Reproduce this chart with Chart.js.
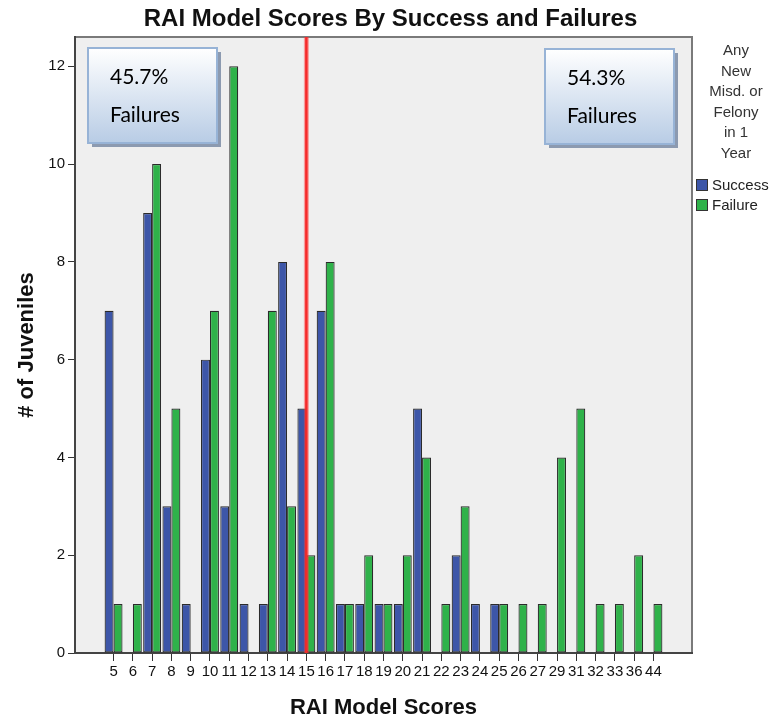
<!DOCTYPE html>
<html>
<head>
<meta charset="utf-8">
<script src="https://cdn.jsdelivr.net/npm/chart.js@4.4.1/dist/chart.umd.min.js"></script>
<style>
  html, body { margin: 0; padding: 0; background: #fff; }
  canvas { display: block; }
</style>
</head>
<body>
<canvas id="chart" width="779" height="721"></canvas>
<script>
// data
const scores = ['5','6','7','8','9','10','11','12','13','14','15','16','17','18','19','20','21','22','23','24','25','26','27','29','31','32','33','36','44']
const successCounts = [7,0,9,3,1,6,3,1,1,8,5,7,1,1,1,1,5,0,2,1,1,0,0,0,0,0,0,0,0]
const failureCounts = [1,1,10,5,0,7,12,0,7,3,2,8,1,2,1,2,4,1,3,0,1,1,1,4,5,1,1,2,1]
const yTicks = [0, 2, 4, 6, 8, 10, 12]
const cutoffScore = '15'
const chartTitle = 'RAI Model Scores By Success and Failures'
const leftNote = ['45.7%', 'Failures']
const rightNote = ['54.3%', 'Failures']
const legendTitle = ['Any', 'New', 'Misd. or', 'Felony', 'in 1', 'Year']

const FONT = '"Liberation Sans", Arial, sans-serif'
const BLUE = '#3d56a8'
const GREEN = '#2fb24a'

// grey plot background + top/right frame, title centred on the whole page
const plotFrame = {
  id: 'plotFrame',
  beforeDraw(chart) {
    const { ctx, chartArea: a } = chart
    ctx.save()
    ctx.fillStyle = '#efefef'
    ctx.fillRect(a.left, a.top, a.right - a.left, a.bottom - a.top)
    ctx.strokeStyle = '#7a7a7a'
    ctx.lineWidth = 2
    ctx.beginPath()
    ctx.moveTo(a.left, a.top)
    ctx.lineTo(a.right, a.top)
    ctx.lineTo(a.right, a.bottom)
    ctx.stroke()

    ctx.fillStyle = '#111'
    ctx.font = 'bold 24px ' + FONT
    ctx.textAlign = 'center'
    ctx.textBaseline = 'middle'
    ctx.fillText(chartTitle, chart.width / 2 + 1, 19)
    ctx.restore()
  }
}

// red cutoff line at score 15
const cutoffLine = {
  id: 'cutoffLine',
  afterDatasetsDraw(chart) {
    const { ctx, chartArea: a, scales } = chart
    const x = scales.x.getPixelForValue(scores.indexOf(cutoffScore))
    ctx.save()
    ctx.strokeStyle = 'rgba(255, 60, 60, 0.45)'
    ctx.lineWidth = 5
    ctx.beginPath(); ctx.moveTo(x, a.top); ctx.lineTo(x, a.bottom); ctx.stroke()
    ctx.strokeStyle = '#f52a2a'
    ctx.lineWidth = 2.5
    ctx.beginPath(); ctx.moveTo(x, a.top); ctx.lineTo(x, a.bottom); ctx.stroke()
    ctx.restore()
  }
}

function drawNote(ctx, x, y, w, h, lines) {
  ctx.save()
  ctx.fillStyle = '#8c9ab0'
  ctx.fillRect(x + 4, y + 4, w, h)
  const g = ctx.createLinearGradient(0, y, 0, y + h)
  g.addColorStop(0, '#ffffff')
  g.addColorStop(1, '#b8cce5')
  ctx.fillStyle = g
  ctx.fillRect(x, y, w, h)
  ctx.strokeStyle = '#97b3d6'
  ctx.lineWidth = 2
  ctx.strokeRect(x, y, w, h)
  ctx.fillStyle = '#000'
  ctx.font = '21px Lato, "Open Sans", sans-serif'
  ctx.textBaseline = 'middle'
  ctx.textAlign = 'left'
  ctx.fillText(lines[0], x + 22, y + 29)
  ctx.fillText(lines[1], x + 22, y + 67)
  ctx.restore()
}

const notesAndLegend = {
  id: 'notesAndLegend',
  afterDraw(chart) {
    const { ctx, chartArea: a } = chart
    drawNote(ctx, a.left + 13, a.top + 11, 129, 95, leftNote)
    drawNote(ctx, a.right - 147, a.top + 12, 129, 95, rightNote)

    // legend at the right
    ctx.save()
    ctx.fillStyle = '#333'
    ctx.font = '15px ' + FONT
    ctx.textAlign = 'center'
    ctx.textBaseline = 'middle'
    const cx = 736
    legendTitle.forEach((t, i) => ctx.fillText(t, cx, 51 + i * 20.5))
    ctx.textAlign = 'left'
    chart.data.datasets.forEach((ds, i) => {
      const y = 185 + i * 20
      ctx.fillStyle = ds.backgroundColor
      ctx.fillRect(696, y - 6, 12, 12)
      ctx.strokeStyle = '#333'
      ctx.lineWidth = 1
      ctx.strokeRect(696.5, y - 5.5, 11, 11)
      ctx.fillStyle = '#222'
      ctx.fillText(ds.label, 712, y + 1)
    })
    ctx.restore()
  }
}

new Chart(document.getElementById('chart'), {
  type: 'bar',
  data: {
    labels: scores,
    datasets: [
      {
        label: 'Success',
        data: successCounts,
        backgroundColor: BLUE,
        borderColor: '#2b2b2b',
        borderWidth: 1.2,
        borderSkipped: false
      },
      {
        label: 'Failure',
        data: failureCounts,
        backgroundColor: GREEN,
        borderColor: '#2b2b2b',
        borderWidth: 1.2,
        borderSkipped: false
      }
    ]
  },
  options: {
    responsive: false,
    animation: false,
    devicePixelRatio: 1,
    categoryPercentage: 0.93,
    barPercentage: 1,
    layout: { padding: { top: 37, right: 87, bottom: 0, left: 0 } },
    plugins: {
      legend: { display: false },
      tooltip: { enabled: false },
      title: { display: false }
    },
    scales: {
      x: {
        type: 'category',
        grid: { display: true, drawOnChartArea: false, drawTicks: true, tickLength: 8, color: '#333', offset: false },
        border: { display: true, color: '#444', width: 2 },
        ticks: { autoSkip: false, maxRotation: 0, minRotation: 0, padding: 2, color: '#111', font: { family: FONT, size: 15 } },
        title: {
          display: true,
          text: 'RAI Model Scores',
          color: '#111',
          font: { family: FONT, size: 22, weight: 'bold' },
          padding: { top: 0, bottom: 0 }
        },
        // two empty category slots on each side, like the original
        afterBuildTicks: s => {
          s._startValue = s.min - 2
          s._valueRange = s.max - s.min + 4
        },
        afterFit: s => { s.height = 68 }
      },
      y: {
        min: 0,
        max: 12.6,
        grid: { display: true, drawOnChartArea: false, drawTicks: true, tickLength: 7, color: '#333' },
        border: { display: true, color: '#444', width: 2 },
        ticks: {
          stepSize: 2,
          includeBounds: false,
          padding: 3,
          color: '#111',
          font: { family: FONT, size: 15 }
        },
        afterBuildTicks: s => { s.ticks = yTicks.map(v => ({ value: v })) },
        title: {
          display: true,
          text: '# of Juveniles',
          color: '#111',
          font: { family: FONT, size: 22, weight: 'bold' },
          padding: { top: 14, bottom: 0 }
        },
        afterFit: s => { s.width = 75 }
      }
    }
  },
  plugins: [plotFrame, cutoffLine, notesAndLegend]
})
</script>
</body>
</html>
